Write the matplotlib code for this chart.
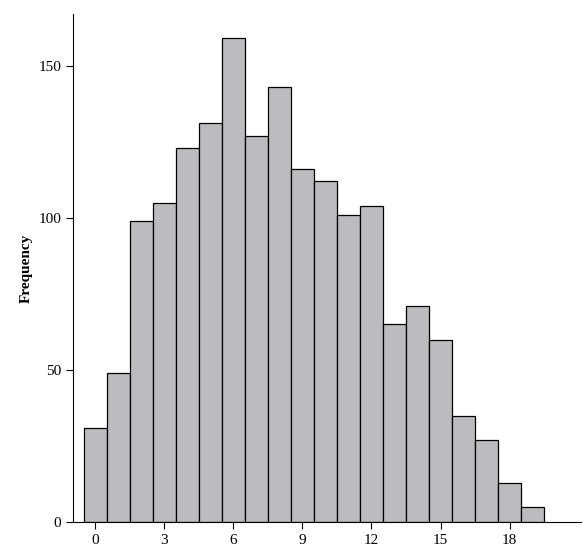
import matplotlib.pyplot as plt

plt.rcParams['font.family'] = ['Liberation Serif', 'DejaVu Serif']

bins = list(range(20))
counts = [31, 49, 99, 105, 123, 131, 159, 127, 143, 116, 112, 101, 104, 65, 71, 60, 35, 27, 13, 5]
xticks = [0, 3, 6, 9, 12, 15, 18]
yticks = [0, 50, 100, 150]

fig, ax = plt.subplots(figsize=(5.84, 5.54), dpi=100)
fig.subplots_adjust(left=0.125, right=0.995, top=0.975, bottom=0.057)

ax.bar(bins, counts, width=1.0, color='#bcbcc0', edgecolor='black', linewidth=0.9)

ax.set_xlim(-0.96, 21.1)
ax.set_ylim(0, 167)
ax.set_xticks(xticks)
ax.set_yticks(yticks)
ax.spines['top'].set_visible(False)
ax.spines['right'].set_visible(False)
ax.tick_params(direction='out', length=5, labelsize=11)
ax.set_ylabel('Frequency', fontweight='bold', fontsize=11)

plt.savefig('out.png')
